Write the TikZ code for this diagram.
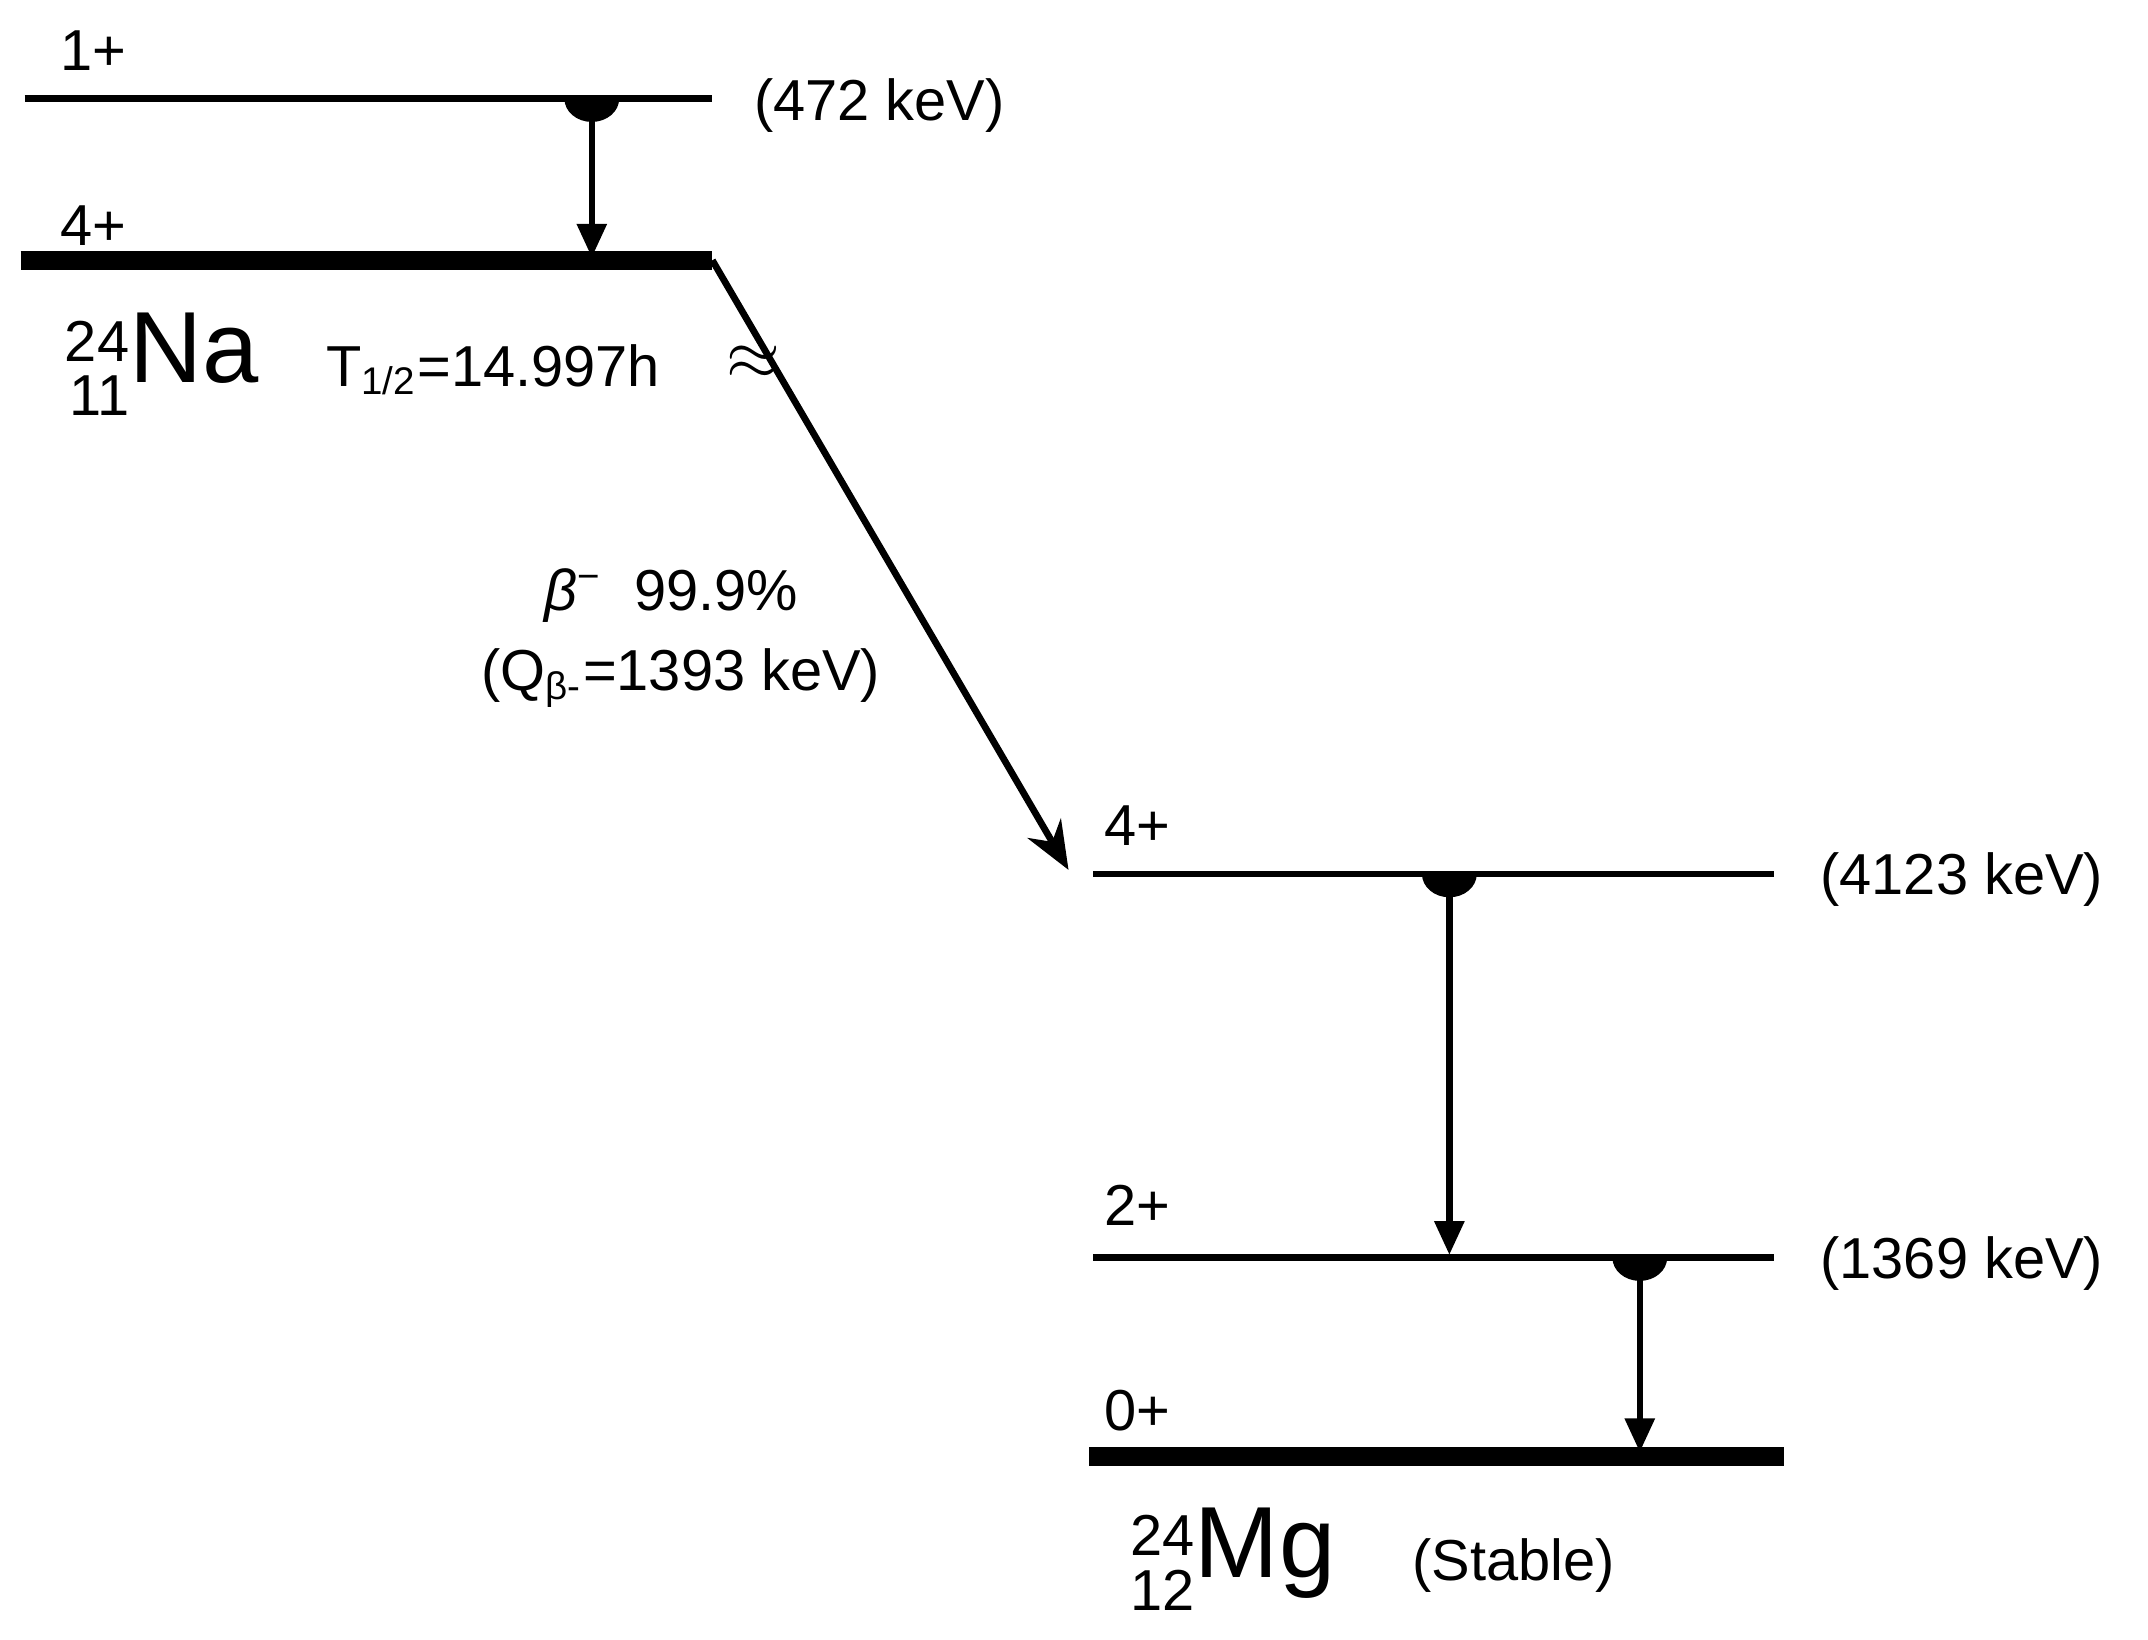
\documentclass[tikz,border=0pt]{standalone}
\usepackage{fontspec}
\setmainfont{Liberation Sans}
\usetikzlibrary{arrows.meta}
\begin{document}
\begin{tikzpicture}[
  lvl/.style={line width=1.4pt},
  gnd/.style={line width=4pt},
  gam/.style={line width=1.3pt,-{Triangle[length=7pt,width=6pt]}},
  lab/.style={font=\fontsize{12}{14}\selectfont,inner sep=0pt},
  dot/.style={fill=black}
]
\useasboundingbox (0,0) rectangle (15.68,-11.97);
% Na levels
\coordinate (n1a) at (0.18,-0.72); \coordinate (n1b) at (5.20,-0.72);
\coordinate (n0a) at (0.15,-1.90); \coordinate (n0b) at (5.20,-1.90);
\draw[lvl] (n1a) -- (n1b);
\draw[gnd] (n0a) -- (n0b);
\node[lab] (s1) at (0.68,-0.37) {1+};
\node[lab] (s2) at (0.68,-1.65) {4+};
\node[lab] (e1) at (6.42,-0.77) {(472 keV)};
\coordinate (g1t) at (4.32,-0.72); \coordinate (g1b) at (4.32,-1.88);
\fill (4.12,-0.72) arc (180:360:0.2 and 0.17) -- cycle;
\draw[gam] (g1t) -- (g1b);
\node[inner sep=0pt] (na) at (1.18,-2.66) {\fontsize{12}{11}\selectfont$\vcenter{\hbox{\shortstack[r]{24\\11}}}$\fontsize{21}{22}\selectfont Na};
\node[lab] (th) at (3.60,-2.70) {T\textsubscript{1/2}=14.997h};
% beta
\coordinate (m4a) at (7.98,-6.38); \coordinate (m4b) at (12.95,-6.38);
\coordinate (ba) at (7.80,-6.35);
\draw[line width=1.4pt,-{Stealth[length=10pt,width=8pt]}] (n0b) -- (ba);
\node[inner sep=0pt] (ap) at (5.50,-2.65) {\fontsize{14}{16}\selectfont$\approx$};
\node[lab] (bl) at (4.90,-4.35) {\textit{β}\textsuperscript{−}\ \ 99.9\%};
\node[lab] (ql) at (4.97,-4.95) {(Q\textsubscript{β-}=1393 keV)};
% Mg levels
\draw[lvl] (m4a) -- (m4b);
\coordinate (m2a) at (7.98,-9.18); \coordinate (m2b) at (12.95,-9.18);
\draw[lvl] (m2a) -- (m2b);
\coordinate (m0a) at (7.95,-10.63); \coordinate (m0b) at (13.02,-10.63);
\draw[gnd] (m0a) -- (m0b);
\node[lab] (t4) at (8.30,-6.03) {4+};
\node[lab] (t2) at (8.30,-8.80) {2+};
\node[lab] (t0) at (8.30,-10.30) {0+};
\node[lab] (e4) at (14.32,-6.42) {(4123 keV)};
\node[lab] (e2) at (14.32,-9.22) {(1369 keV)};
\fill (10.38,-6.38) arc (180:360:0.2 and 0.17) -- cycle;
\draw[gam] (10.58,-6.38) -- (10.58,-9.16);
\fill (11.77,-9.18) arc (180:360:0.2 and 0.17) -- cycle;
\draw[gam] (11.97,-9.18) -- (11.97,-10.60);
\node[inner sep=0pt] (mg) at (9.00,-11.38) {\fontsize{12}{11}\selectfont$\vcenter{\hbox{\shortstack[r]{24\\12}}}$\fontsize{21}{22}\selectfont Mg};
\node[lab] (st) at (11.05,-11.43) {(Stable)};
\end{tikzpicture}
\end{document}
